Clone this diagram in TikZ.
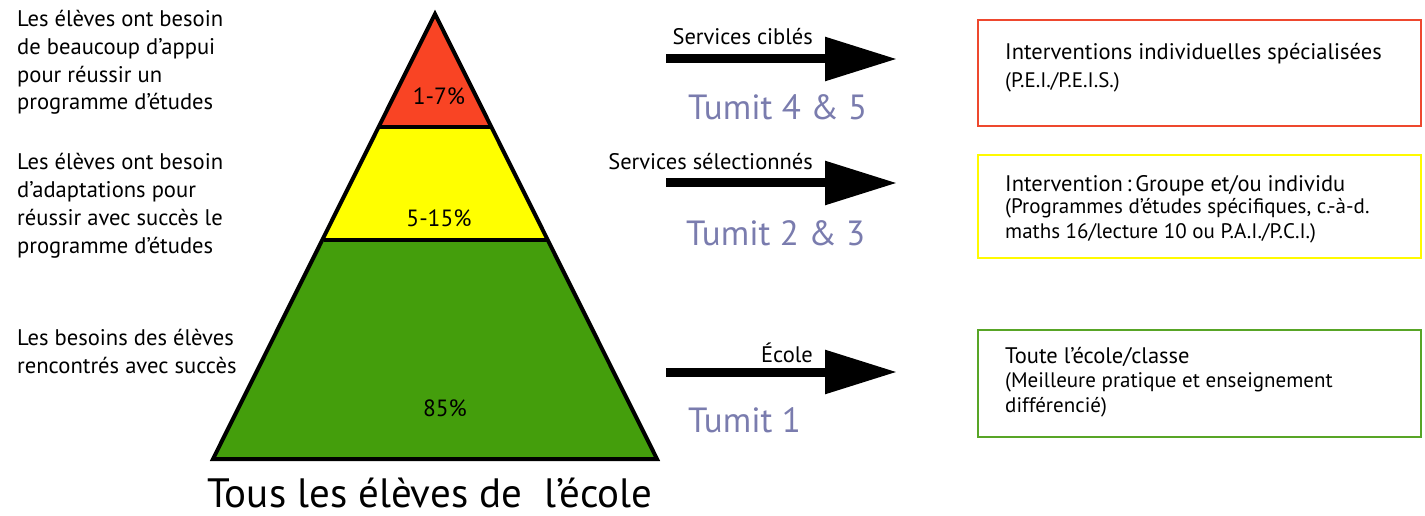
\documentclass[tikz,border=0pt]{standalone}
\usepackage{fontspec}
\setmainfont{PT Sans}
\usetikzlibrary{arrows.meta}
\definecolor{pyrred}{RGB}{249,68,36}
\definecolor{pyryellow}{RGB}{255,255,0}
\definecolor{pyrgreen}{RGB}{68,158,12}
\definecolor{boxred}{RGB}{238,72,46}
\definecolor{boxyellow}{RGB}{255,250,0}
\definecolor{boxgreen}{RGB}{88,165,38}
\definecolor{tumit}{RGB}{122,124,174}
\tikzset{
  layer/.style={draw=black, line width=4pt, line join=miter},
  lefttxt/.style={anchor=base west, inner sep=0pt, align=left, font=\fontsize{22.6}{27.7}\selectfont},
  pct/.style={anchor=base, inner sep=0pt, font=\fontsize{23.5}{26}\selectfont},
  svc/.style={anchor=base east, inner sep=0pt, font=\fontsize{22.5}{26}\selectfont},
  tumitlbl/.style={anchor=base west, inner sep=0pt, text=tumit, font=\fontsize{35}{40}\selectfont},
  bigarrow/.style={line width=9pt, -{Triangle[length=72pt,width=42pt]}},
  infobox/.style={line width=2pt},
  boxtitle/.style={anchor=base west, inner sep=0pt, font=\fontsize{22.5}{25}\selectfont},
  boxsub/.style={anchor=base west, inner sep=0pt, align=left, font=\fontsize{21}{24.5}\selectfont}
}
\begin{document}
\begin{tikzpicture}[x=1pt,y=-1pt]
\useasboundingbox (0,0) rectangle (1425,516);
% pyramid
\fill[pyrgreen] (324,240) -- (547,240) -- (657,459) -- (213,459) -- cycle;
\fill[pyryellow] (380,127) -- (491,127) -- (547,240) -- (324,240) -- cycle;
\fill[pyrred] (435,14) -- (491,127) -- (380,127) -- cycle;
\draw[layer] (435,14) -- (657,459) -- (213,459) -- cycle;
\draw[layer] (380,127) -- (491,127);
\draw[layer] (324,240) -- (547,240);
\node[pct] (p1) at (439,105) {1-7\%};
\node[pct] (p2) at (439,226) {5-15\%};
\node[pct] (p3) at (445,416) {85\%};
\node[anchor=base, inner sep=0pt, font=\fontsize{41}{46}\selectfont] (title) at (430,507) {Tous les élèves de\ \ l’école};
% left texts (base anchor = baseline of last line)
\node[lefttxt] (l1) at (17,110) {Les élèves ont besoin\\de beaucoup d’appui\\pour réussir un\\programme d’études};
\node[lefttxt] (l2) at (17,253) {Les élèves ont besoin\\d’adaptations pour\\réussir avec succès le\\programme d’études};
\node[lefttxt] (l3) at (17,373) {Les besoins des élèves\\rencontrés avec succès};
% arrows
\coordinate (a1s) at (666,59); \coordinate (a1e) at (897,59);
\coordinate (a2s) at (666,183); \coordinate (a2e) at (897,183);
\coordinate (a3s) at (666,372); \coordinate (a3e) at (897,372);
\draw[bigarrow] (a1s) -- (a1e);
\draw[bigarrow] (a2s) -- (a2e);
\draw[bigarrow] (a3s) -- (a3e);
\node[svc] (s1) at (813,45) {Services ciblés};
\node[svc] (s2) at (813,170) {Services sélectionnés};
\node[svc] (s3) at (813,362) {École};
\node[tumitlbl] (t1) at (688,120) {Tumit 4 \& 5};
\node[tumitlbl] (t2) at (686,245) {Tumit 2 \& 3};
\node[tumitlbl] (t3) at (688,432) {Tumit 1};
% boxes
\draw[infobox, boxred] (978,20) rectangle (1421,126);
\draw[infobox, boxyellow] (978,155) rectangle (1421,258);
\draw[infobox, boxgreen] (978,330) rectangle (1421,437);
\node[boxtitle] (b1) at (1005,60) {Interventions individuelles spécialisées};
\node[boxsub] (b1s) at (1005,88) {(P.E.I./P.E.I.S.)};
\node[boxtitle] (b2) at (1005,191) {Intervention\,:\,Groupe et/ou individu};
\node[boxsub] (b2s) at (1005,238) {(Programmes d’études spécifiques, c.-à-d.\\maths 16/lecture 10 ou P.A.I./P.C.I.)};
\node[boxtitle] (b3) at (1005,363) {Toute l’école/classe};
\node[boxsub] (b3s) at (1005,412) {(Meilleure pratique et enseignement\\différencié)};
\end{tikzpicture}
\end{document}
